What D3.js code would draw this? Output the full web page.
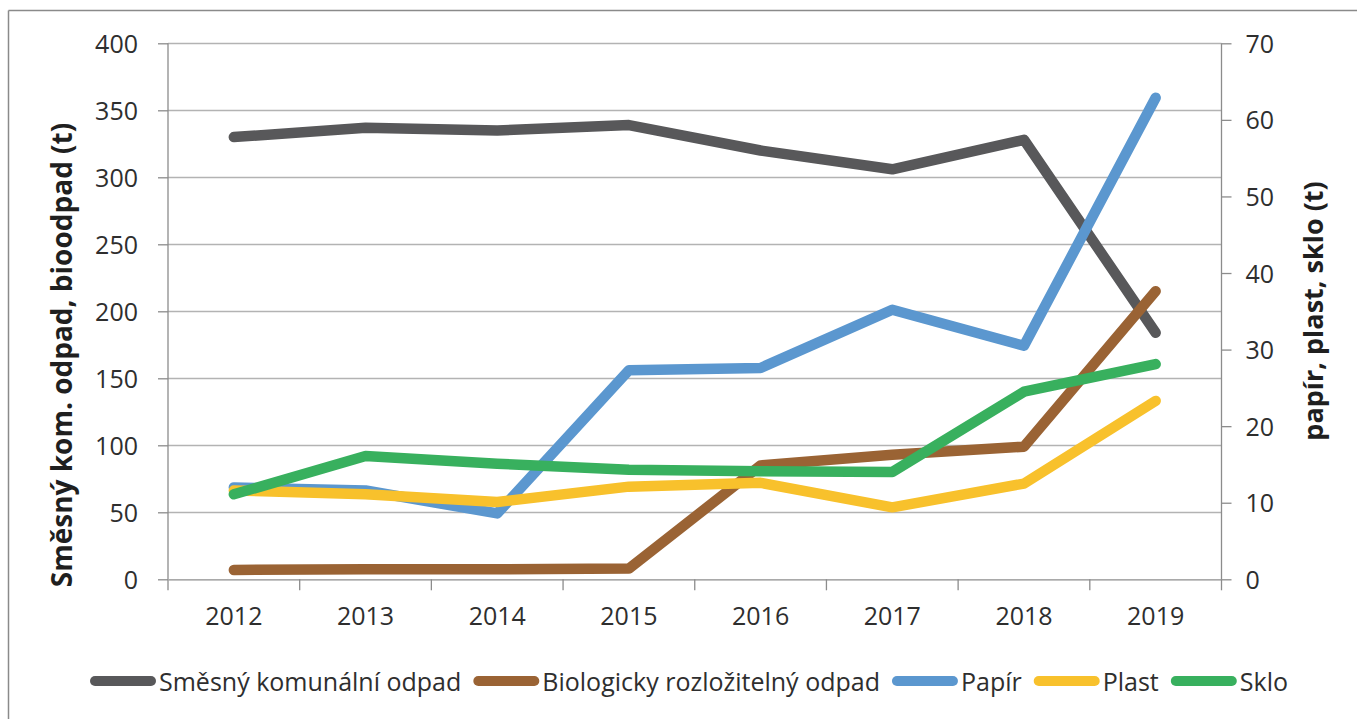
<!DOCTYPE html>
<html>
<head>
<meta charset="utf-8">
<script src="https://cdn.jsdelivr.net/npm/d3@7"></script>
<style>
  html, body { margin: 0; padding: 0; background: #fff; }
  svg { display: block; font-family: "Open Sans", sans-serif; }
</style>
</head>
<body>
<svg id="chart" width="1357" height="719"></svg>
<script>
const years = ["2012", "2013", "2014", "2015", "2016", "2017", "2018", "2019"];
const smesny = [330, 337, 335, 339, 320, 306, 328, 184];
const bio = [7, 7.5, 7.5, 8, 85, 93, 99, 215];
const papir = [12.0, 11.6, 8.6, 27.3, 27.6, 35.2, 30.5, 62.9];
const plast = [11.6, 11.1, 10.1, 12.1, 12.6, 9.4, 12.5, 23.3];
const sklo = [11.1, 16.1, 15.1, 14.3, 14.1, 14.0, 24.5, 28.1];
const leftTicks = [0, 50, 100, 150, 200, 250, 300, 350, 400];
const rightTicks = [0, 10, 20, 30, 40, 50, 60, 70];
const seriesNames = ["Směsný komunální odpad", "Biologicky rozložitelný odpad", "Papír", "Plast", "Sklo"];
const seriesColors = ["#58585a", "#9a6334", "#5b97cf", "#f8c12c", "#38b05e"];
const leftTitle = "Směsný kom. odpad, bioodpad (t)";
const rightTitle = "papír, plast, sklo (t)";

const series = [
  { name: seriesNames[0], values: smesny, axis: "left", color: seriesColors[0] },
  { name: seriesNames[1], values: bio, axis: "left", color: seriesColors[1] },
  { name: seriesNames[2], values: papir, axis: "right", color: seriesColors[2] },
  { name: seriesNames[3], values: plast, axis: "right", color: seriesColors[3] },
  { name: seriesNames[4], values: sklo, axis: "right", color: seriesColors[4] }
];

const svg = d3.select("#chart");
const W = 1357, H = 719;
const plot = { left: 168, right: 1221.5, top: 43.3, bottom: 579.3 };

// outer frame (cropped at right and bottom)
svg.append("line").attr("x1", 8.5).attr("x2", W).attr("y1", 10.5).attr("y2", 10.5)
  .attr("stroke", "#8a8a8a").attr("stroke-width", 1.5);
svg.append("line").attr("x1", 8.5).attr("x2", 8.5).attr("y1", 10.5).attr("y2", H)
  .attr("stroke", "#8a8a8a").attr("stroke-width", 1.5);

const x = d3.scaleBand().domain(years).range([plot.left, plot.right]).padding(0);
const yL = d3.scaleLinear().domain([0, 400]).range([plot.bottom, plot.top]);
const yR = d3.scaleLinear().domain([0, 70]).range([plot.bottom, plot.top]);

// gridlines
svg.append("g").selectAll("line").data(leftTicks.filter(d => d > 0)).join("line")
  .attr("x1", plot.left).attr("x2", plot.right)
  .attr("y1", d => Math.round(yL(d)) + 0.5).attr("y2", d => Math.round(yL(d)) + 0.5)
  .attr("stroke", "#b3b3b3").attr("stroke-width", 1.3);

// left axis
const gL = svg.append("g").attr("transform", `translate(${plot.left},0)`)
  .call(d3.axisLeft(yL).tickValues(leftTicks).tickSize(10).tickPadding(20).tickFormat(d3.format("d")));
gL.select(".domain").attr("stroke", "#8c8c8c").attr("stroke-width", 1.3).attr("d", `M0,${plot.top}V${plot.bottom}`);
gL.selectAll(".tick line").attr("stroke", "#8c8c8c").attr("stroke-width", 1.3);
gL.selectAll(".tick text").attr("font-size", 25).attr("fill", "#2e2e2e")
  .attr("font-family", "Open Sans, sans-serif").attr("dy", "0.36em");

// right axis
const gR = svg.append("g").attr("transform", `translate(${plot.right},0)`)
  .call(d3.axisRight(yR).tickValues(rightTicks).tickSize(10).tickPadding(14).tickFormat(d3.format("d")));
gR.select(".domain").attr("stroke", "#8c8c8c").attr("stroke-width", 1.3).attr("d", `M0,${plot.top}V${plot.bottom}`);
gR.selectAll(".tick line").attr("stroke", "#8c8c8c").attr("stroke-width", 1.3);
gR.selectAll(".tick text").attr("font-size", 25).attr("fill", "#2e2e2e")
  .attr("font-family", "Open Sans, sans-serif").attr("dy", "0.36em");

// bottom axis
const gB = svg.append("g").attr("transform", `translate(0,${plot.bottom})`)
  .call(d3.axisBottom(x).tickSize(0).tickPadding(28));
gB.select(".domain").attr("stroke", "#8c8c8c").attr("stroke-width", 1.3);
gB.selectAll(".tick text").attr("font-size", 25).attr("fill", "#2e2e2e")
  .attr("font-family", "Open Sans, sans-serif");
// category boundary tick marks
const bounds = years.map(d => x(d)).concat([x(years[years.length - 1]) + x.bandwidth()]);
gB.append("g").selectAll("line").data(bounds).join("line")
  .attr("x1", d => d).attr("x2", d => d).attr("y1", 0).attr("y2", 11)
  .attr("stroke", "#8c8c8c").attr("stroke-width", 1.3);

// axis titles
svg.append("text")
  .attr("transform", `translate(72,355) rotate(-90)`)
  .attr("text-anchor", "middle").attr("font-size", 28).attr("font-weight", "bold")
  .attr("fill", "#1f1f1f").text(leftTitle);
svg.append("text")
  .attr("transform", `translate(1323,311) rotate(-90)`)
  .attr("text-anchor", "middle").attr("font-size", 27).attr("font-weight", "bold")
  .attr("fill", "#1f1f1f").text(rightTitle);

// lines
const cx = d => x(d) + x.bandwidth() / 2;
series.forEach(s => {
  const ys = s.axis === "left" ? yL : yR;
  const line = d3.line().x((d, i) => cx(years[i])).y(d => ys(d));
  svg.append("path").datum(s.values)
    .attr("d", line).attr("fill", "none")
    .attr("stroke", s.color).attr("stroke-width", 10.5)
    .attr("stroke-linejoin", "round").attr("stroke-linecap", "round");
});

// legend
const legend = svg.append("g");
const swW = 56, swGap = 3, itemGap = 12, legY = 681;
const items = [];
series.forEach(s => {
  const g = legend.append("g");
  g.append("line").attr("x1", 5).attr("x2", 5 + swW).attr("y1", legY).attr("y2", legY)
    .attr("stroke", s.color).attr("stroke-width", 10).attr("stroke-linecap", "round");
  const t = g.append("text").attr("x", 5 + swW + 5 + swGap).attr("y", legY + 9.5)
    .attr("font-size", 25).attr("fill", "#2e2e2e").text(s.name);
  const tw = t.node().getComputedTextLength();
  items.push({ g, w: 5 + swW + 5 + swGap + tw });
});
const total = d3.sum(items, d => d.w) + itemGap * (items.length - 1);
let start = 689 - total / 2;
items.forEach(it => {
  it.g.attr("transform", `translate(${start},0)`);
  start += it.w + itemGap;
});
</script>
</body>
</html>
